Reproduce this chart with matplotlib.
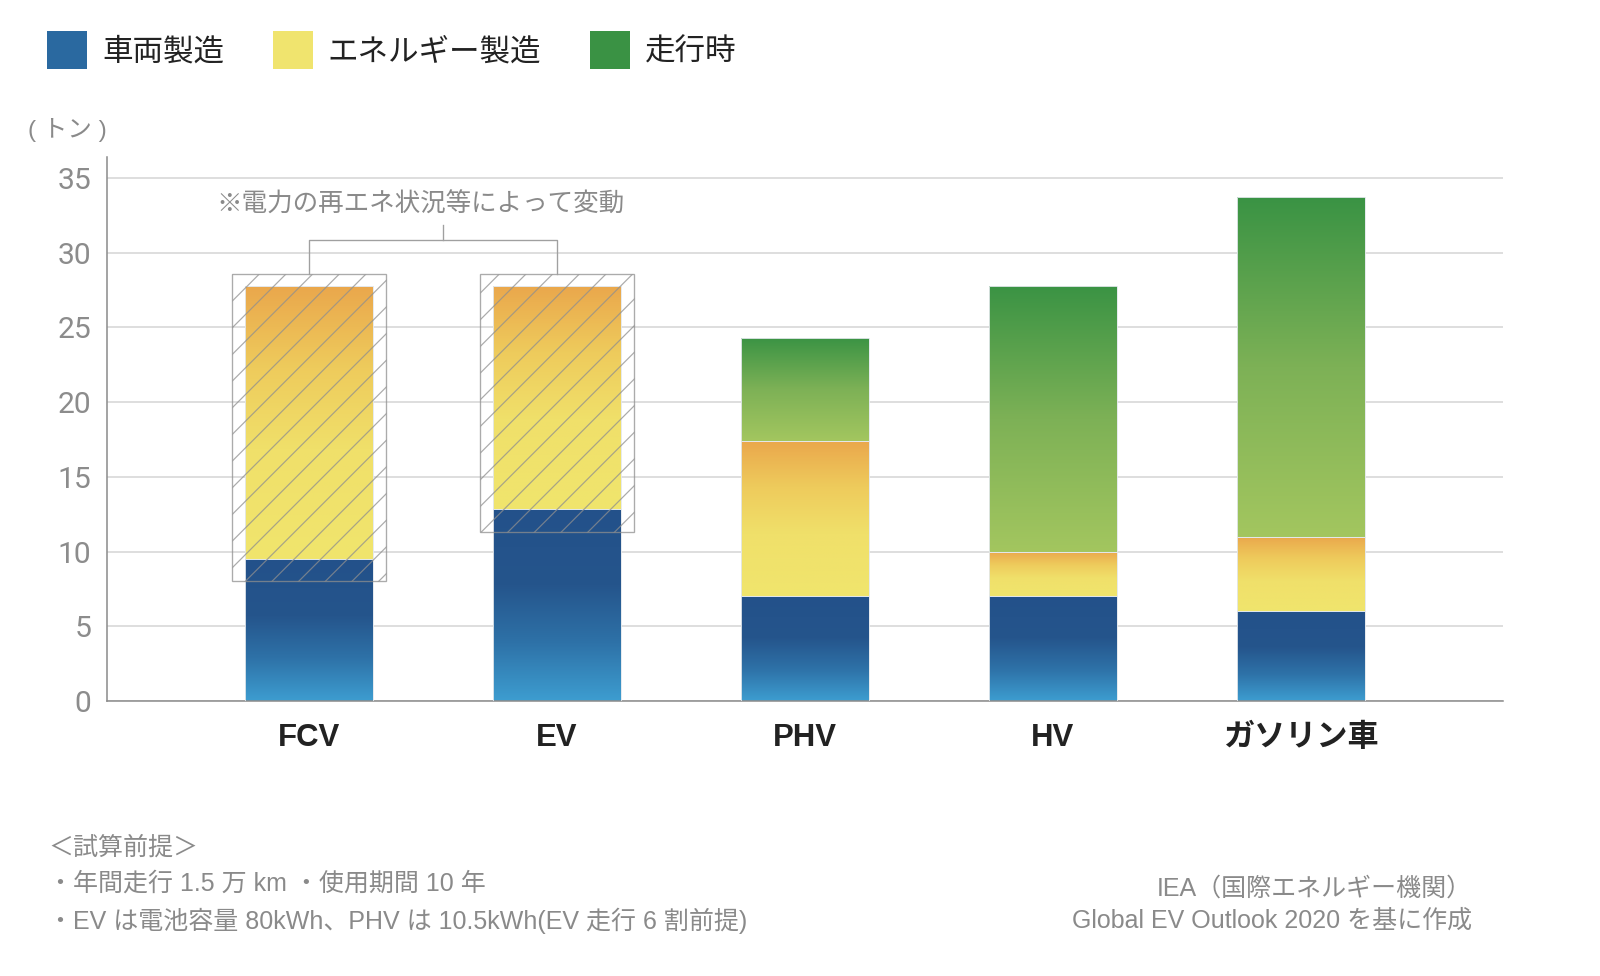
import numpy as np
import matplotlib
matplotlib.use("Agg")
import matplotlib.pyplot as plt
from matplotlib.colors import LinearSegmentedColormap
from matplotlib.patches import Patch

plt.rcParams['font.family'] = ['Noto Sans CJK JP', 'DejaVu Sans']
plt.rcParams['hatch.linewidth'] = 1.1

# data (tons of CO2 over life cycle)
categories = ["FCV", "EV", "PHV", "HV", "ガソリン車"]
vehicle_mfg = [9.5, 12.85, 7.0, 7.0, 6.0]
energy_mfg = [18.3, 14.95, 10.4, 3.0, 5.0]
driving = [0.0, 0.0, 6.9, 17.8, 22.7]
range_low = [8.0, 11.3]      # FCV, EV variation depending on renewable share
range_high = [28.6, 28.6]
series_names = ["車両製造", "エネルギー製造", "走行時"]
yticks = [0, 5, 10, 15, 20, 25, 30, 35]

blue_cmap = LinearSegmentedColormap.from_list(
    "blue", [(0, "#3d9dd0"), (0.3, "#2e72a8"), (0.6, "#25558c"), (1, "#23518a")])
yellow_cmap = LinearSegmentedColormap.from_list(
    "yellow", [(0, "#f0e56d"), (0.4, "#f0e06a"), (0.7, "#eecb5c"), (1, "#eaa74c")])
green_cmap = LinearSegmentedColormap.from_list(
    "green", [(0, "#a3c65f"), (0.5, "#7db156"), (1, "#3a9344")])
legend_colors = ["#2a69a0", "#f0e46e", "#3a9244"]

latin_cjk = ["Liberation Sans", "Noto Sans CJK JP", "DejaVu Sans"]

DPI = 80
fig = plt.figure(figsize=(1600 / DPI, 976 / DPI), dpi=DPI)
ax = fig.add_axes([107 / 1600, 1 - 701 / 976, (1503 - 107) / 1600, (701 - 157) / 976])

x = np.arange(len(categories))
width = 0.516
grad = np.linspace(0, 1, 256).reshape(-1, 1)


def gradient_bars(heights, bottoms, cmap):
    bars = ax.bar(x, heights, width, bottom=bottoms, color="none",
                  edgecolor="#e3e8ec", linewidth=0.8, zorder=3)
    for b in bars:
        if b.get_height() <= 0:
            continue
        x0, y0 = b.get_x(), b.get_y()
        im = ax.imshow(grad, cmap=cmap, origin="lower", aspect="auto",
                       extent=[x0, x0 + b.get_width(), y0, y0 + b.get_height()],
                       zorder=2)
        im.set_clip_path(b)
    return bars


bottom = np.zeros(len(x))
gradient_bars(vehicle_mfg, bottom, blue_cmap)
bottom = bottom + np.array(vehicle_mfg)
gradient_bars(energy_mfg, bottom, yellow_cmap)
bottom = bottom + np.array(energy_mfg)
gradient_bars(driving, bottom, green_cmap)

# variation boxes for FCV / EV
lo = np.array(range_low)
hi = np.array(range_high)
ax.bar(x[:2], hi - lo, 0.62, bottom=lo, fill=False, hatch="/",
       edgecolor="#8f8f8f", linewidth=1.2, alpha=0.75, zorder=4)

# bracket and note
bracket_y = hi.max() + 2.25
ax.plot([x[0], x[0], x[1], x[1]], [hi[0], bracket_y, bracket_y, hi[1]],
        color="#a0a0a0", lw=1.2, zorder=4)
mid = (x[0] + x[1]) / 2 + 0.04
ax.plot([mid, mid], [bracket_y, bracket_y + 1.0], color="#a0a0a0", lw=1.2, zorder=4)
ax.text(0.45, 33.2, "※電力の再エネ状況等によって変動", ha="center", va="center",
        fontsize=23, color="#8a8a8a")

ax.set_xlim(-0.815, 4.815)
ax.set_ylim(0, 36.4)
ax.set_yticks(yticks)
ax.set_yticklabels([str(v) for v in yticks], family=["Roboto", "DejaVu Sans"],
                   fontsize=27, color="#8c8c8c")
ax.set_xticks(x)
ax.set_xticklabels(categories, family=latin_cjk, fontsize=28, fontweight="bold",
                   color="#222222")
ax.tick_params(axis="y", length=0, pad=14)
ax.tick_params(axis="x", length=0, pad=20)
ax.grid(axis="y", color="#dedede", lw=1.8, zorder=0)
ax.set_axisbelow(True)
for s in ["top", "right"]:
    ax.spines[s].set_visible(False)
for s in ["left", "bottom"]:
    ax.spines[s].set_color("#8c8c8c")
    ax.spines[s].set_linewidth(1.4)

fig.text(28 / 1600, 1 - 130 / 976, "( トン )", family=latin_cjk, fontsize=22,
         color="#8a8a8a", ha="left", va="center")

handles = [Patch(facecolor=c, edgecolor="none") for c in legend_colors]
fig.legend(handles, series_names, loc="upper left",
           bbox_to_anchor=(47 / 1600, 1 - 31 / 976), ncol=3, frameon=False,
           fontsize=27.5, handlelength=1.3, handleheight=1.55, handletextpad=0.5,
           columnspacing=1.6, borderpad=0, borderaxespad=0, labelcolor="#222222")

note_color = "#8a8a8a"
note_size = 22.5
fig.text(48 / 1600, 1 - 848 / 976, "＜試算前提＞", family=latin_cjk, fontsize=note_size,
         color=note_color, va="center")
fig.text(48 / 1600, 1 - 884 / 976, "・年間走行 1.5 万 km ・使用期間 10 年", family=latin_cjk,
         fontsize=note_size, color=note_color, va="center")
fig.text(48 / 1600, 1 - 921 / 976, "・EV は電池容量 80kWh、PHV は 10.5kWh(EV 走行 6 割前提)",
         family=latin_cjk, fontsize=note_size, color=note_color, va="center")
fig.text(1472 / 1600, 1 - 889 / 976, "IEA（国際エネルギー機関）", family=latin_cjk,
         fontsize=note_size, color=note_color, va="center", ha="right")
fig.text(1472 / 1600, 1 - 921 / 976, "Global EV Outlook 2020 を基に作成", family=latin_cjk,
         fontsize=note_size, color=note_color, va="center", ha="right")

fig.savefig("out.png", dpi=DPI, facecolor="white")
